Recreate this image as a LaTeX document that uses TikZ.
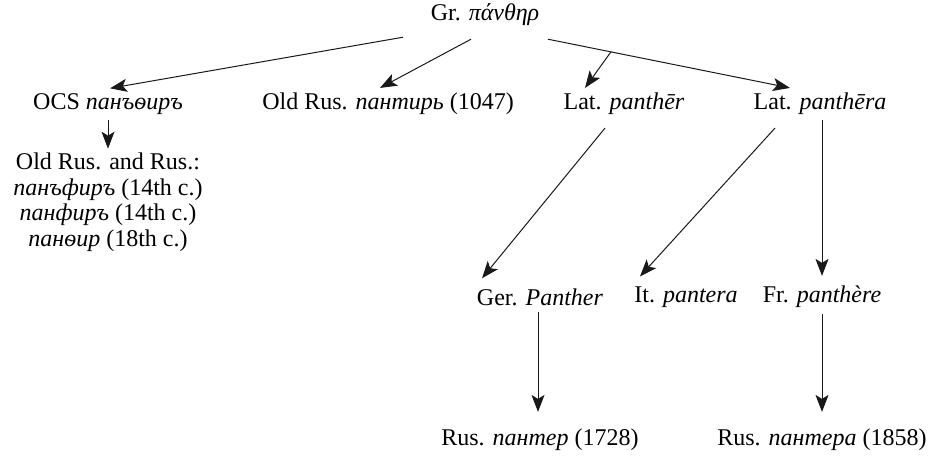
\documentclass[tikz,border=0pt]{standalone}
\usepackage{fontspec}
\setmainfont{Liberation Serif}
\usetikzlibrary{calc}
\usetikzlibrary{arrows.meta}
\tikzset{
    word/.style={inner sep=2pt, font=\fontsize{24}{25.5}\selectfont},
    derive/.style={-{Stealth[length=17pt,width=13pt,inset=4pt]}, line width=1pt, black!90}
}
\begin{document}
\begin{tikzpicture}[x=1pt,y=-1pt]
\useasboundingbox (0,0) rectangle (931,457);
% top word
\node[word] (gr) at (485,15) {Gr. \textit{πάνθηρ}};
% second row
\node[word] (ocs) at (108,104) {OCS \textit{панъѳиръ}};
\node[word] (oldrus) at (388,104) {Old Rus. \textit{пантирь} (1047)};
\node[word] (latr) at (624,104) {Lat. \textit{panthēr}};
\node[word] (latra) at (820,104) {Lat. \textit{panthēra}};
\node[word,align=center] (oldrusrus) at (108,202) {Old Rus. and Rus.:\\ \textit{панъфиръ} (14th c.)\\ \textit{панфиръ} (14th c.)\\ \textit{панѳир} (18th c.)};
% third row
\node[word] (ger) at (540,297) {Ger. \textit{Panther}};
\node[word] (it) at (686,297) {It. \textit{pantera}};
\node[word] (fr) at (822,297) {Fr. \textit{panthère}};
% bottom row
\node[word] (rus1) at (540,440) {Rus. \textit{пантер} (1728)};
\node[word] (rus2) at (822,440) {Rus. \textit{пантера} (1858)};
% connectors
\coordinate (grR) at ($(gr.south)+(63,11)$);
\coordinate (latraN) at ($(latra.north)+(-30,-3)$);
\coordinate (fork) at ($(grR)!0.26!(latraN)$);
\draw[derive] ($(gr.south)+(-82,9)$) -- ($(ocs.north)+(2,-3)$);
\draw[derive] ($(gr.south)+(-14,11)$) -- ($(oldrus.north)+(-8,-3)$);
\draw[derive] (grR) -- (latraN);
\draw[derive] (fork) -- ($(latr.north)+(-39,-3)$);
\draw[derive] ($(ocs.south)+(0,3)$) -- ($(oldrusrus.north)+(0,-2)$);
\draw[derive] ($(latr.south)+(-19,11)$) -- ($(ger.north)+(-58,-8)$);
\draw[derive] ($(latra.south)+(-45,11)$) -- ($(it.north)+(-46,-8)$);
\draw[derive] ($(latra.south)+(2,3)$) -- ($(fr.north)+(0,-8)$);
\draw[derive] ($(ger.south)+(-2,4)$) -- ($(rus1.north)+(-2,-15)$);
\draw[derive] ($(fr.south)+(0,4)$) -- ($(rus2.north)+(0,-15)$);
\end{tikzpicture}
\end{document}
